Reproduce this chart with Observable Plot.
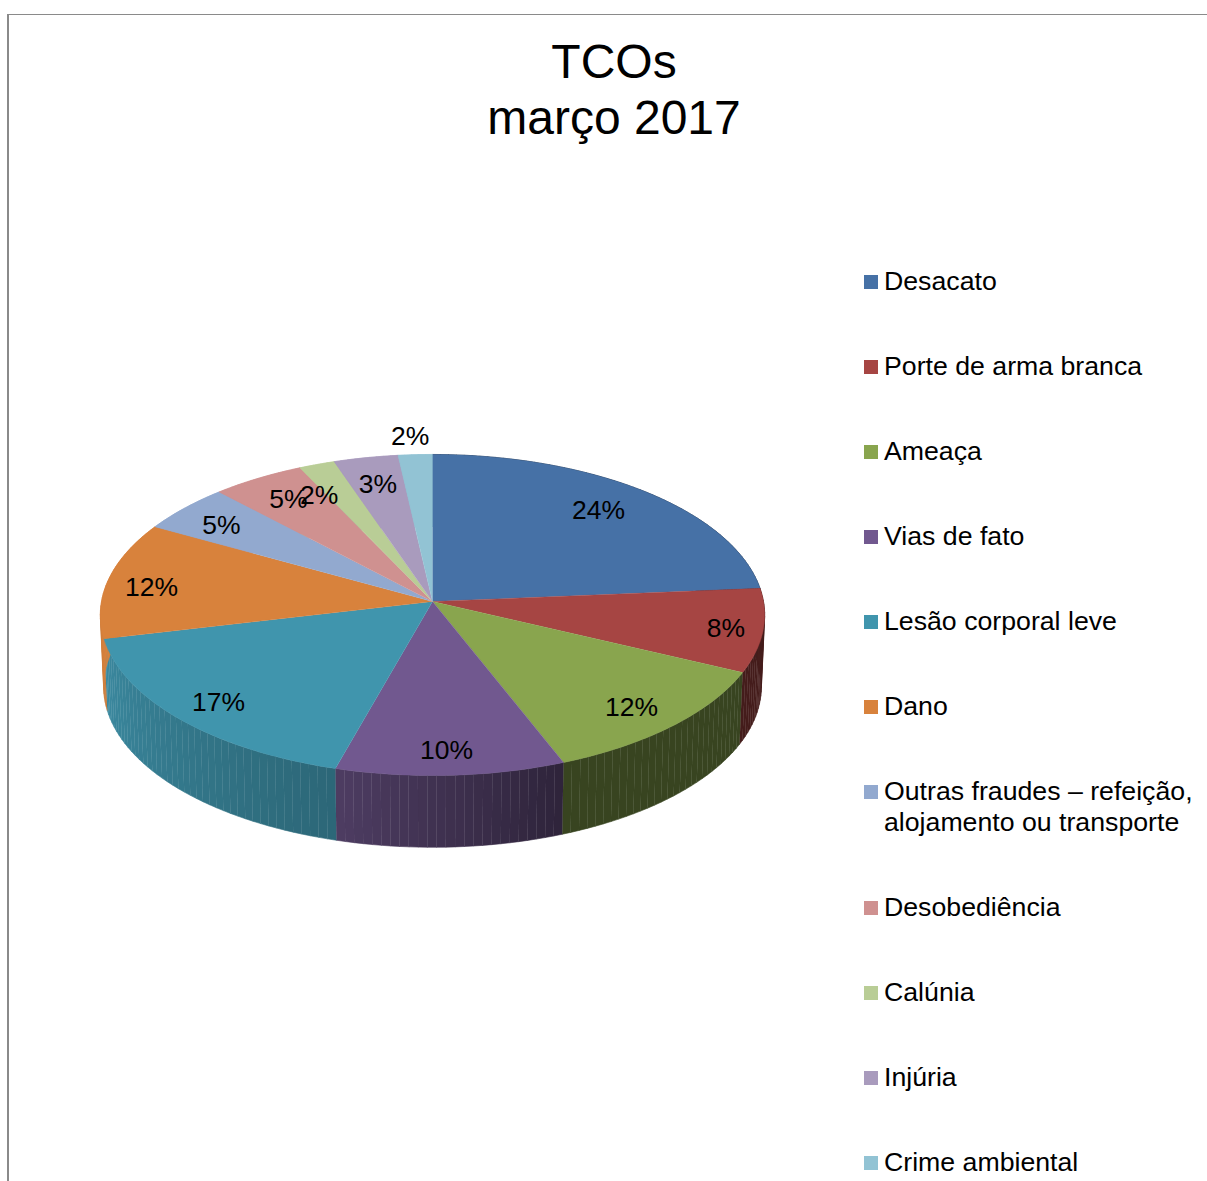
<!DOCTYPE html>
<html lang="pt">
<head>
<meta charset="utf-8">
<title>TCOs março 2017</title>
<script src="https://cdn.jsdelivr.net/npm/d3@7"></script>
<script src="https://cdn.jsdelivr.net/npm/@observablehq/plot@0.6"></script>
<style>
  html, body { margin: 0; background: #fff; }
  #sheet { position: relative; width: 1207px; height: 1181px; overflow: hidden;
           font-family: "Liberation Sans", Arial, sans-serif; color: #000; }
  #sheet svg { position: absolute; left: 0; top: 0; }
  #edge { position: absolute; left: 7px; top: 14px; right: 0; bottom: 0;
          border-left: 2px solid #8a8a8a; border-top: 1px solid #8a8a8a; }
  h1 { position: absolute; left: 0; width: 1228px; top: 34px; margin: 0;
       font-size: 48px; font-weight: 400; line-height: 56px; text-align: center; }
  #legend { position: absolute; left: 864px; top: 266px; display: flex;
            flex-direction: column; gap: 54px; font-size: 26.7px; line-height: 31px; }
  #legend div { display: flex; width: 335px; }
  #legend i { flex: none; width: 14px; height: 14px; margin: 9px 6px 0 0; }
</style>
</head>
<body>
<div id="sheet">
  <div id="edge"></div>
  <h1>TCOs<br>março 2017</h1>
  <div id="legend"></div>
</div>
<script>
const categories = ["Desacato", "Porte de arma branca", "Ameaça", "Vias de fato", "Lesão corporal leve", "Dano",
  "Outras fraudes – refeição, alojamento ou transporte", "Desobediência", "Calúnia", "Injúria", "Crime ambiental"];
const shares = [23.7, 8.4, 12.0, 10.3, 17.0, 11.8, 4.9, 4.9, 1.9, 3.4, 1.8];
const colors = ["#4671A6", "#A64543", "#89A54E", "#71588F", "#4095AD", "#D8823C",
  "#92A9CF", "#CF9190", "#B9CD96", "#A99BBD", "#92C3D4"];

// Radial reach of each percentage label, in pie radii, and its turn off the slice's mid-angle in degrees.
const labelReach = [0.80, 0.89, 0.85, 0.87, 0.86, 0.86, 0.83, 0.82, 0.79, 0.80, 1.136];
const labelTurn = [-1.4, 0.4, 0.9, 0.3, -0.7, -2, -1.2, 0.2, -5.2, -0.1, -0.5];

// Lighting of the pie's rim: brightness by clockwise angle from twelve o'clock.
const rimAngles = [0, 159, 196, 257, 272, 360];
const rimLight = [0.41, 0.41, 0.69, 0.92, 1, 1];

// Camera tilt of the disc.
const perspective = 0.0841, rimDepth = 0.45, baseShrink = 0.01;
const rim = d3.scaleLinear(rimAngles, rimLight);

function project(deg, reach = 1, drop = 0) {
  const t = deg * Math.PI / 180;
  const u = reach * Math.sin(t), v = reach * Math.cos(t);
  const s = 1 / (1 + perspective * v);
  return {x: u * s * (1 - baseShrink * drop), y: v * s - rimDepth * drop};
}

const total = d3.sum(shares);
const ends = d3.cumsum(shares).map((c) => c / total * 360);
const slices = categories.map((name, i) => ({
  name, share: shares[i], color: colors[i], a0: i ? ends[i - 1] : 0, a1: ends[i], i
}));
const stepsIn = (s, size) => d3.range(Math.ceil((s.a1 - s.a0) / size) + 1)
  .map((k, _, all) => s.a0 + (s.a1 - s.a0) * k / (all.length - 1));

// The rim is a run of narrow quads so the shade can change around the disc.
const rimQuads = slices.flatMap((s) => {
  const steps = stepsIn(s, 1.5);
  return steps.slice(1).flatMap((a, k) => {
    const b = steps[k], mid = (a + b) / 2;
    const c = d3.rgb(s.color), l = rim(mid);
    const fill = `rgb(${c.r * l},${c.g * l},${c.b * l})`;
    const key = `${s.i}-${k}`;
    return [project(b), project(a), project(a, 1, 1), project(b, 1, 1)]
      .map((p) => ({...p, key, fill}));
  });
});

const faces = slices.flatMap((s) =>
  [{x: 0, y: 0}, ...stepsIn(s, 0.5).map((a) => project(a))]
    .map((p) => ({...p, key: s.name, fill: s.color})));

const labels = slices.map((s) => ({
  ...project((s.a0 + s.a1) / 2 + labelTurn[s.i], labelReach[s.i]),
  text: `${Math.round(s.share)}%`
}));

const W = 1207, H = 1181, pieLeft = 432, pieTop = 601, radiusX = 331, radiusY = 159.4;

const chart = Plot.plot({
  width: W,
  height: H,
  margin: 0,
  style: {background: "transparent", fontFamily: '"Liberation Sans", Arial, sans-serif'},
  x: {axis: null, domain: [-pieLeft / radiusX, (W - pieLeft) / radiusX], range: [0, W]},
  y: {axis: null, domain: [(pieTop - H) / radiusY, pieTop / radiusY], range: [H, 0]},
  color: {type: "identity"},
  marks: [
    Plot.line(rimQuads, {x: "x", y: "y", z: "key", fill: "fill", stroke: "fill", strokeWidth: 0.6}),
    Plot.line(faces, {x: "x", y: "y", z: "key", fill: "fill", stroke: "fill", strokeWidth: 0.4}),
    Plot.text(labels, {x: "x", y: "y", text: "text", fontSize: 26.5, fill: "#000"})
  ]
});
const sheet = document.getElementById("sheet");
sheet.insertBefore(chart, sheet.firstChild);

const legend = d3.select("#legend");
slices.forEach((s) => {
  const row = legend.append("div");
  row.append("i").style("background", s.color);
  row.append("span").text(s.name);
});
</script>
</body>
</html>
